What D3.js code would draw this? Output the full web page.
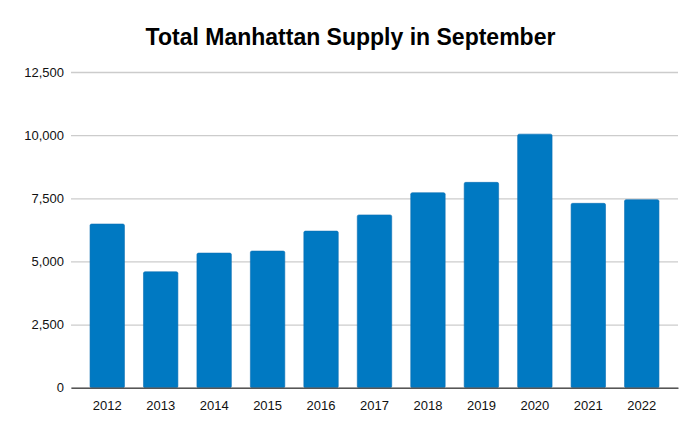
<!DOCTYPE html>
<html><head><meta charset="utf-8">
<script src="https://cdn.jsdelivr.net/npm/d3@7"></script>
<style>body{margin:0;background:#fff}svg{display:block}</style>
</head><body>
<script>
const years = ["2012","2013","2014","2015","2016","2017","2018","2019","2020","2021","2022"];
const supply = [6480, 4590, 5330, 5410, 6200, 6840, 7720, 8130, 10040, 7300, 7445];
const yTicks = [0, 2500, 5000, 7500, 10000, 12500];
const title = "Total Manhattan Supply in September";

const W = 700, H = 433;
const m = {left: 71, right: 22, top: 72, bottom: 45.3};
const svg = d3.select("body").append("svg").attr("width", W).attr("height", H);
svg.append("rect").attr("width", W).attr("height", H).attr("fill", "#fff");

const x = d3.scaleBand().domain(years).range([m.left, W - m.right]).padding(0.356);
const y = d3.scaleLinear().domain([0, 12500]).range([H - m.bottom, m.top]);

svg.append("text").attr("x", 350.5).attr("y", 44.5).attr("text-anchor", "middle")
  .attr("font-family", "Liberation Sans, Arial, sans-serif").attr("font-weight", "bold")
  .attr("font-size", 23).attr("fill", "#000").text(title);

const gy = svg.append("g").attr("transform", `translate(${m.left},0)`)
  .call(d3.axisLeft(y).tickValues(yTicks).tickSize(-(W - m.left - m.right)).tickPadding(7)
    .tickFormat(d3.format(",")));
gy.select(".domain").remove();
gy.selectAll(".tick line").attr("stroke", "#cccccc").attr("stroke-width", 1.3);
gy.selectAll(".tick text").attr("font-family", "Liberation Sans, Arial, sans-serif")
  .attr("font-size", 13).attr("fill", "#111");

svg.append("g").selectAll("rect").data(years).join("rect")
  .attr("x", d => x(d)).attr("width", x.bandwidth())
  .attr("y", (d, i) => y(supply[i])).attr("height", (d, i) => y(0) - y(supply[i]))
  .attr("fill", "#0079c2").attr("stroke", "#0a6fb3").attr("stroke-width", 0.6).attr("rx", 1.5);

const gx = svg.append("g").attr("transform", `translate(0,${y(0)})`)
  .call(d3.axisBottom(x).tickSize(0).tickPadding(13));
gx.select(".domain").attr("stroke", "#555").attr("stroke-width", 1.6);
gx.selectAll(".tick text").attr("font-family", "Liberation Sans, Arial, sans-serif")
  .attr("font-size", 13).attr("fill", "#111");
</script>
</body></html>
